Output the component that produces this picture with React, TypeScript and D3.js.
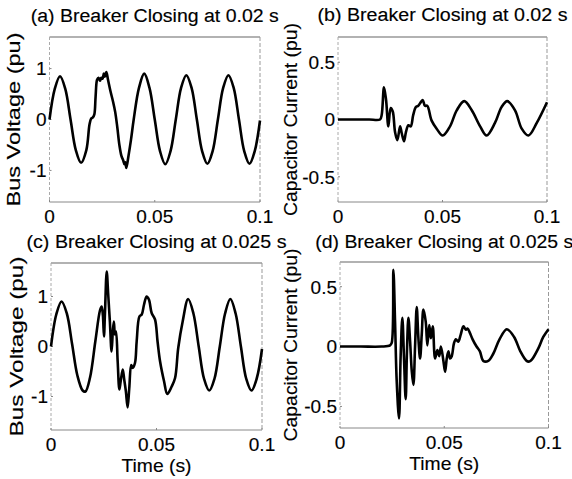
import React from "react";
import * as d3 from "d3";

// ---------- data ----------
const xTicks = [0, 0.05, 0.1];
const xTickLabels = ["0", "0.05", "0.1"];
const voltTicks = [-1, 0, 1];
const voltTickLabels = ["-1", "0", "1"];
const currTicks = [-0.5, 0, 0.5];
const currTickLabels = ["-0.5", "0", "0.5"];

const titles = [
  "(a) Breaker Closing at 0.02 s",
  "(b) Breaker Closing at 0.02 s",
  "(c) Breaker Closing at 0.025 s",
  "(d) Breaker Closing at 0.025 s",
];
const yLabels = ["Bus Voltage (pu)", "Capacitor Current (pu)"];
const xLabel = "Time (s)";

const aTime = [0,0.0025,0.005,0.0075,0.01,0.0125,0.015,0.0175,0.019,0.0198,0.0206,0.0213,0.0219,0.0226,0.0233,0.024,0.0246,0.0252,0.0258,0.0263,0.027,0.0278,0.029,0.0302,0.0312,0.0322,0.0332,0.0342,0.035,0.0356,0.036,0.0365,0.0375,0.0387,0.04,0.0425,0.045,0.0475,0.05,0.0525,0.055,0.0575,0.06,0.0625,0.065,0.0675,0.07,0.0725,0.075,0.0775,0.08,0.0825,0.085,0.0875,0.09,0.0925,0.095,0.0975,0.1];
const aVoltage = [0,0.6,0.85,0.6,0,-0.6,-0.85,-0.6,-0.1,0.02,0.04,0.1,0.45,0.78,0.82,0.76,0.82,0.8,0.9,0.84,0.93,0.78,0.55,0.35,0.15,-0.15,-0.5,-0.72,-0.8,-0.88,-0.84,-0.95,-0.72,-0.4,0,0.62,0.9,0.62,0,-0.62,-0.88,-0.62,0,0.62,0.87,0.62,0,-0.62,-0.87,-0.62,0,0.62,0.87,0.62,0,-0.62,-0.87,-0.62,-0.02];

const bTime = [0,0.005,0.01,0.015,0.0201,0.0209,0.022,0.023,0.0241,0.0252,0.0262,0.0273,0.0284,0.0297,0.0305,0.0316,0.0325,0.0337,0.0348,0.036,0.0373,0.0384,0.0392,0.0405,0.0416,0.0427,0.0448,0.0472,0.0501,0.0536,0.0568,0.0604,0.064,0.068,0.0711,0.0751,0.0783,0.081,0.0847,0.0879,0.0911,0.0951,0.1];
const bCurrent = [0,0,0,0,0,0.04,0.28,0.17,-0.06,0.1,0.07,-0.11,-0.18,-0.06,-0.12,-0.19,-0.11,-0.05,-0.06,0.04,0.11,0.12,0.14,0.17,0.12,0.12,-0.01,-0.08,-0.14,-0.06,0.08,0.16,0.08,-0.06,-0.14,-0.03,0.11,0.16,0.08,-0.08,-0.14,-0.03,0.15];

const cTime = [0,0.0025,0.005,0.0075,0.01,0.0125,0.015,0.0163,0.0185,0.021,0.0232,0.024,0.0246,0.0251,0.0256,0.0264,0.0271,0.0279,0.0287,0.0293,0.0298,0.0303,0.0308,0.0316,0.0324,0.033,0.034,0.0347,0.0355,0.0363,0.0371,0.038,0.0387,0.0398,0.0406,0.0419,0.043,0.0441,0.0453,0.0464,0.0477,0.0493,0.0505,0.0517,0.0536,0.0551,0.0572,0.0588,0.0603,0.0624,0.065,0.0675,0.07,0.0725,0.075,0.0775,0.08,0.0825,0.085,0.0875,0.09,0.0925,0.095,0.0975,0.1];
const cVoltage = [0,0.64,0.9,0.66,0.05,-0.58,-0.88,-0.9,-0.62,0.1,0.72,0.8,0.62,0.2,0.7,1.5,1.05,0.5,-0.1,0.3,0.5,0.24,0.3,-0.3,-0.86,-0.7,-0.46,-0.66,-0.9,-1.22,-0.83,-0.37,-0.43,-0.33,0.1,0.6,0.64,0.84,1.0,0.94,0.67,0.54,0.1,-0.3,-0.7,-0.95,-0.8,-0.63,-0.03,0.5,0.95,0.66,0,-0.64,-0.88,-0.64,0,0.66,0.95,0.66,0,-0.64,-0.88,-0.64,-0.05];

const dTime = [0,0.01,0.02,0.024,0.0248,0.0256,0.0264,0.0272,0.0283,0.0291,0.0299,0.0307,0.0315,0.0321,0.0328,0.0336,0.0344,0.0352,0.036,0.0368,0.0376,0.0384,0.0392,0.04,0.0411,0.0419,0.0428,0.0436,0.0445,0.0456,0.0467,0.0476,0.0484,0.0496,0.0504,0.0512,0.052,0.0528,0.0536,0.0547,0.0556,0.0567,0.0579,0.0592,0.0604,0.0612,0.0624,0.0636,0.0655,0.0671,0.0687,0.0711,0.0735,0.0765,0.08,0.0835,0.0865,0.0895,0.0908,0.092,0.095,0.0975,0.1];
const dCurrent = [0,0,0,0.01,0.03,0.64,0.21,-0.29,-0.6,-0.07,0.24,-0.1,-0.44,-0.05,0.24,0.05,-0.2,-0.32,0.0,0.33,0.07,-0.1,0.1,0.31,0.21,0.01,0.18,0.07,0.17,-0.1,-0.03,-0.08,0,-0.12,-0.21,-0.1,-0.04,-0.1,-0.08,0.03,0.06,0.04,0.1,0.17,0.14,0.15,0.11,0.06,0,-0.04,-0.12,-0.12,-0.06,0.06,0.145,0.08,-0.04,-0.12,-0.125,-0.11,-0.02,0.08,0.145];

// ---------- layout ----------
type Panel = {
  t: number[]; v: number[];
  left: number; right: number; top: number; bottom: number;
  yDomain: [number, number];
  yTicks: number[]; yTickLabels: string[];
  title: string; titleY: number; titleLen: number;
  yLabel: string; yLabelX: number; yLabelLen: number;
  xLabel?: string;
};

const panels: Panel[] = [
  { t: aTime, v: aVoltage, left: 49.5, right: 260, top: 37, bottom: 202, yDomain: [-1.62, 1.62],
    yTicks: voltTicks, yTickLabels: voltTickLabels, title: titles[0], titleY: 21.5, titleLen: 248,
    yLabel: yLabels[0], yLabelX: 19.5, yLabelLen: 174 },
  { t: bTime, v: bCurrent, left: 338, right: 547, top: 37, bottom: 202, yDomain: [-0.72, 0.72],
    yTicks: currTicks, yTickLabels: currTickLabels, title: titles[1], titleY: 21, titleLen: 250,
    yLabel: yLabels[1], yLabelX: 297, yLabelLen: 193 },
  { t: cTime, v: cVoltage, left: 51, right: 262, top: 263, bottom: 430, yDomain: [-1.67, 1.67],
    yTicks: voltTicks, yTickLabels: voltTickLabels, title: titles[2], titleY: 248, titleLen: 260,
    yLabel: yLabels[0], yLabelX: 22.5, yLabelLen: 180, xLabel },
  { t: dTime, v: dCurrent, left: 340, right: 548.5, top: 262, bottom: 428, yDomain: [-0.68, 0.706],
    yTicks: currTicks, yTickLabels: currTickLabels, title: titles[3], titleY: 248, titleLen: 258,
    yLabel: yLabels[1], yLabelX: 297, yLabelLen: 193, xLabel },
];

const FONT = "'Liberation Sans', Arial, Helvetica, sans-serif";
const TXT = { fontFamily: FONT, fill: "#000", stroke: "#000", strokeWidth: 0.15 } as const;

function PanelView({ p }: { p: Panel }) {
  const x = d3.scaleLinear().domain([0, 0.1]).range([p.left, p.right]);
  const y = d3.scaleLinear().domain(p.yDomain).range([p.bottom, p.top]);
  const pts: [number, number][] = p.t.map((t, i) => [t, p.v[i]]);
  const line = d3
    .line<[number, number]>()
    .x((d) => x(d[0]))
    .y((d) => y(d[1]))
    .curve(d3.curveCatmullRom.alpha(0.5));
  const cx = (p.left + p.right) / 2;
  const cy = (p.top + p.bottom) / 2;
  return (
    <g>
      {/* frame */}
      <line x1={p.left} x2={p.right} y1={p.top} y2={p.top} stroke="#666" strokeWidth={1.2} />
      <line x1={p.left} x2={p.right} y1={p.bottom} y2={p.bottom} stroke="#888" strokeWidth={1} />
      <line x1={p.left} x2={p.left} y1={p.top} y2={p.bottom} stroke="#aaa" strokeWidth={1} strokeDasharray="3,2" />
      <line x1={p.right} x2={p.right} y1={p.top} y2={p.bottom} stroke="#999" strokeWidth={1} strokeDasharray="4,2" />
      {/* ticks */}
      {p.yTicks.map((tv) => (
        <line key={"yt" + tv} x1={p.left} x2={p.left + 2} y1={y(tv)} y2={y(tv)} stroke="#888" />
      ))}
      {xTicks.map((tv) => (
        <line key={"xt" + tv} x1={x(tv)} x2={x(tv)} y1={p.bottom} y2={p.bottom - 2} stroke="#888" />
      ))}
      {/* series */}
      <path d={line(pts) || ""} fill="none" stroke="#000" strokeWidth={2.6} strokeLinejoin="round" />
      {/* tick labels */}
      {p.yTicks.map((tv, i) => (
        <text key={"yl" + tv} x={p.left - 3} y={y(tv)} dy="0.36em" textAnchor="end" fontSize={19} {...TXT}>
          {p.yTickLabels[i]}
        </text>
      ))}
      {xTicks.map((tv, i) => (
        <text key={"xl" + tv} x={x(tv)} y={p.bottom + 21} textAnchor="middle" fontSize={19} {...TXT}>
          {xTickLabels[i]}
        </text>
      ))}
      {/* title */}
      <text x={cx} y={p.titleY} textAnchor="middle" fontSize={18} {...TXT}
        textLength={p.titleLen} lengthAdjust="spacingAndGlyphs">
        {p.title}
      </text>
      {/* y label */}
      <text transform={`translate(${p.yLabelX},${cy}) rotate(-90)`} textAnchor="middle" fontSize={18}
        {...TXT} textLength={p.yLabelLen} lengthAdjust="spacingAndGlyphs">
        {p.yLabel}
      </text>
      {p.xLabel && (
        <text x={cx} y={p.bottom + 42} textAnchor="middle" fontSize={19} {...TXT}
          textLength={70} lengthAdjust="spacingAndGlyphs">
          {p.xLabel}
        </text>
      )}
    </g>
  );
}

export default function App() {
  return (
    <svg width={572} height={479} style={{ position: "absolute", left: 0, top: 0, background: "#fff" }}>
      <rect x={0} y={0} width={572} height={479} fill="#fff" />
      {panels.map((p, i) => (
        <PanelView key={i} p={p} />
      ))}
    </svg>
  );
}
